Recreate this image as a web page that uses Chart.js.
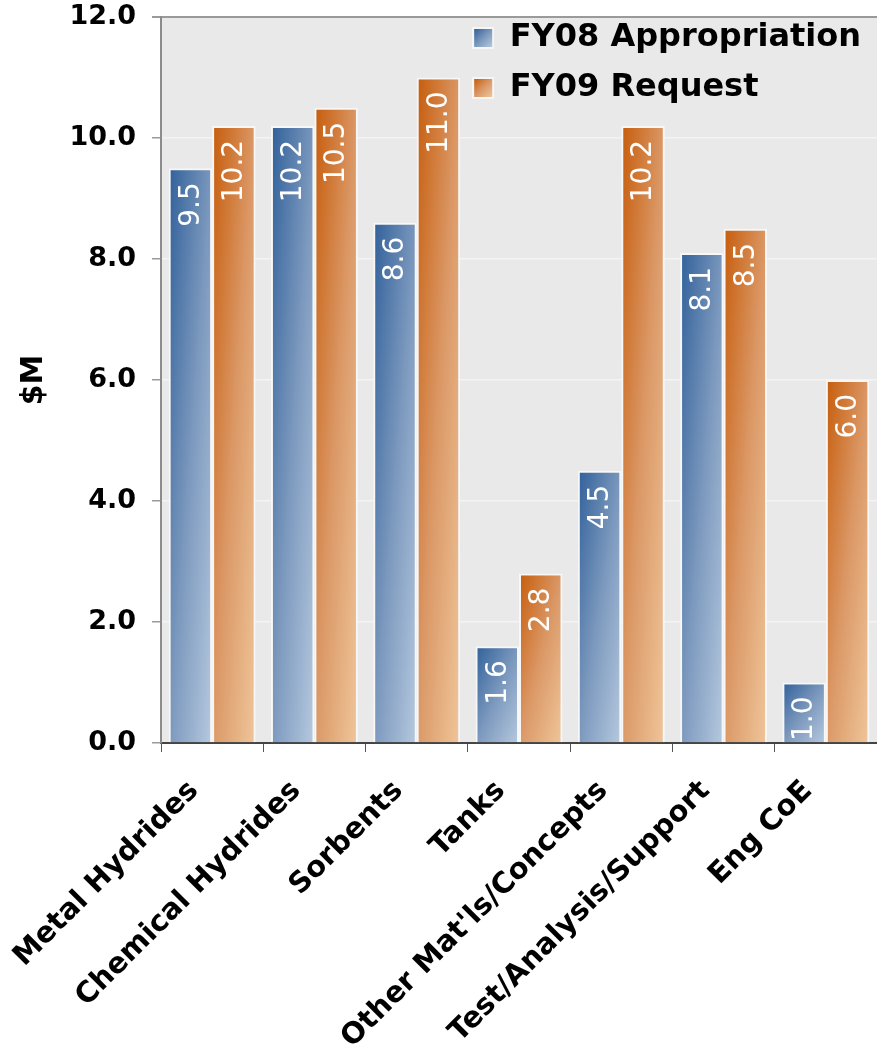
<!DOCTYPE html>
<html>
<head>
<meta charset="utf-8">
<script src="https://cdn.jsdelivr.net/npm/chart.js@4.4.1/dist/chart.umd.min.js"></script>
<style>
  html, body { margin: 0; padding: 0; background: #ffffff; }
  #wrap { width: 877px; height: 1051px; position: relative; }
</style>
</head>
<body>
<div id="wrap"><canvas id="c" width="877" height="1051"></canvas></div>
<script>
const categories = ['Metal Hydrides', 'Chemical Hydrides', 'Sorbents', 'Tanks', "Other Mat'ls/Concepts", 'Test/Analysis/Support', 'Eng CoE'];
const fy08Values = [9.5, 10.2, 8.6, 1.6, 4.5, 8.1, 1.0];
const fy09Values = [10.2, 10.5, 11.0, 2.8, 10.2, 8.5, 6.0];
const seriesNames = ['FY08 Appropriation', 'FY09 Request'];
const yTicks = [0, 2, 4, 6, 8, 10, 12];

const CAT_PCT = 0.85;
const blueStops = ['#30609a', '#7b98bd', '#b6c9df'];
const orangeStops = ['#c65c0b', '#db9866', '#efc69b'];

function barFill(stops) {
  return function (ctx) {
    const chart = ctx.chart;
    if (ctx.type !== 'data') return stops[1];
    const xs = chart.scales.x, ys = chart.scales.y;
    if (!xs || !ys || !chart.chartArea) return stops[1];
    const center = xs.getPixelForValue(ctx.dataIndex);
    const catW = xs.width / categories.length;
    const w = catW * CAT_PCT / 2;
    const left = ctx.datasetIndex === 0 ? center - w : center;
    const top = ys.getPixelForValue(ctx.raw);
    const bottom = ys.getPixelForValue(0);
    const h = Math.max(bottom - top, 1);
    const k = 2 / (1 / (w * w) + 1 / (h * h));
    const g = chart.ctx.createLinearGradient(left, top, left + k / w, top + k / h);
    g.addColorStop(0, stops[0]);
    g.addColorStop(0.5, stops[1]);
    g.addColorStop(1, stops[2]);
    return g;
  };
}

function legendSwatch(stops) {
  const c = document.createElement('canvas');
  c.width = 22; c.height = 22;
  const x = c.getContext('2d');
  x.fillStyle = '#f6f6f6';
  x.fillRect(0, 0, 22, 22);
  const g = x.createLinearGradient(2, 2, 20, 20);
  g.addColorStop(0, stops[0]);
  g.addColorStop(0.5, stops[1]);
  g.addColorStop(1, stops[2]);
  x.fillStyle = g;
  x.fillRect(2, 2, 18, 18);
  return c;
}
const swatches = [legendSwatch(blueStops), legendSwatch(orangeStops)];

const plotBg = {
  id: 'plotBg',
  beforeDraw(chart) {
    const a = chart.chartArea; const c = chart.ctx;
    c.save(); c.fillStyle = '#e9e9e9';
    c.fillRect(a.left, a.top, a.right - a.left, a.bottom - a.top);
    c.restore();
  }
};

const legendMover = {
  id: 'legendMover',
  afterLayout(chart) {
    const lg = chart.legend; const a = chart.chartArea;
    const w = lg.width;
    lg.right = a.right - 6;
    lg.left = lg.right - w;
    lg.top = a.top - 13;
    lg.bottom = lg.top + 120;
    lg.height = 120;
  }
};

const valueLabels = {
  id: 'valueLabels',
  afterDatasetsDraw(chart) {
    const c = chart.ctx;
    c.save();
    c.fillStyle = '#ffffff';
    c.font = '28px "DejaVu Sans"';
    c.textAlign = 'right';
    c.textBaseline = 'middle';
    chart.data.datasets.forEach((ds, di) => {
      const meta = chart.getDatasetMeta(di);
      meta.data.forEach((el, i) => {
        c.save();
        c.translate(el.x + 1, el.y + 14);
        c.rotate(-Math.PI / 2);
        c.fillText(ds.data[i].toFixed(1), 0, 0);
        c.restore();
      });
    });
    c.restore();
  }
};

new Chart(document.getElementById('c'), {
  type: 'bar',
  data: {
    labels: categories,
    datasets: [
      { label: seriesNames[0], data: fy08Values, backgroundColor: barFill(blueStops),
        borderColor: '#f7f7f7', borderWidth: 2, borderSkipped: 'bottom' },
      { label: seriesNames[1], data: fy09Values, backgroundColor: barFill(orangeStops),
        borderColor: '#f7f7f7', borderWidth: 2, borderSkipped: 'bottom' }
    ]
  },
  options: {
    responsive: false,
    animation: false,
    layout: { padding: { left: 0, right: 0, top: 17, bottom: 0 } },
    datasets: { bar: { categoryPercentage: CAT_PCT, barPercentage: 1.0 } },
    plugins: {
      tooltip: { enabled: false },
      legend: {
        position: 'chartArea',
        align: 'start',
        labels: {
          usePointStyle: true,
          boxWidth: 21,
          boxHeight: 32,
          padding: 18,
          color: '#000000',
          font: { family: '"DejaVu Sans"', size: 32, weight: 'bold' },
          generateLabels(chart) {
            const items = Chart.defaults.plugins.legend.labels.generateLabels(chart);
            items.forEach((it, i) => { it.pointStyle = swatches[i]; });
            return items;
          }
        }
      }
    },
    scales: {
      x: {
        grid: { display: true, drawOnChartArea: false, drawTicks: true, tickLength: 9, tickColor: '#555555', offset: true },
        border: { display: true, color: '#444444', width: 2 },
        ticks: {
          color: '#000000',
          font: { family: '"DejaVu Sans"', size: 29, weight: 'bold' },
          minRotation: 45, maxRotation: 45,
          autoSkip: false,
          padding: 22,
          labelOffset: -18
        },
        afterFit(s) { s.height = 308; s.paddingLeft = 0; s.paddingRight = 0; }
      },
      y: {
        min: 0, max: 12,
        afterBuildTicks(s) { s.ticks = yTicks.map(v => ({ value: v })); },
        grid: {
          color: (c) => (c.tick && c.tick.value === 12 ? '#9a9a9a' : '#f4f4f4'),
          lineWidth: (c) => (c.tick && c.tick.value === 12 ? 2 : 1.5),
          tickColor: '#9a9a9a', tickLength: 9, drawTicks: true
        },
        border: { display: true, color: '#8c8c8c', width: 2 },
        ticks: {
          color: '#000000',
          font: { family: '"DejaVu Sans"', size: 27, weight: 'bold' },
          padding: 16,
          callback: (v) => Number(v).toFixed(1)
        },
        title: {
          display: true, text: '$M', color: '#000000',
          font: { family: '"DejaVu Sans"', size: 30, weight: 'bold' },
          padding: { top: 16, bottom: 0 }
        },
        afterFit(s) { s.width = 161; s.paddingTop = 0; s.paddingBottom = 0; }
      }
    }
  },
  plugins: [plotBg, legendMover, valueLabels]
});
</script>
</body>
</html>
